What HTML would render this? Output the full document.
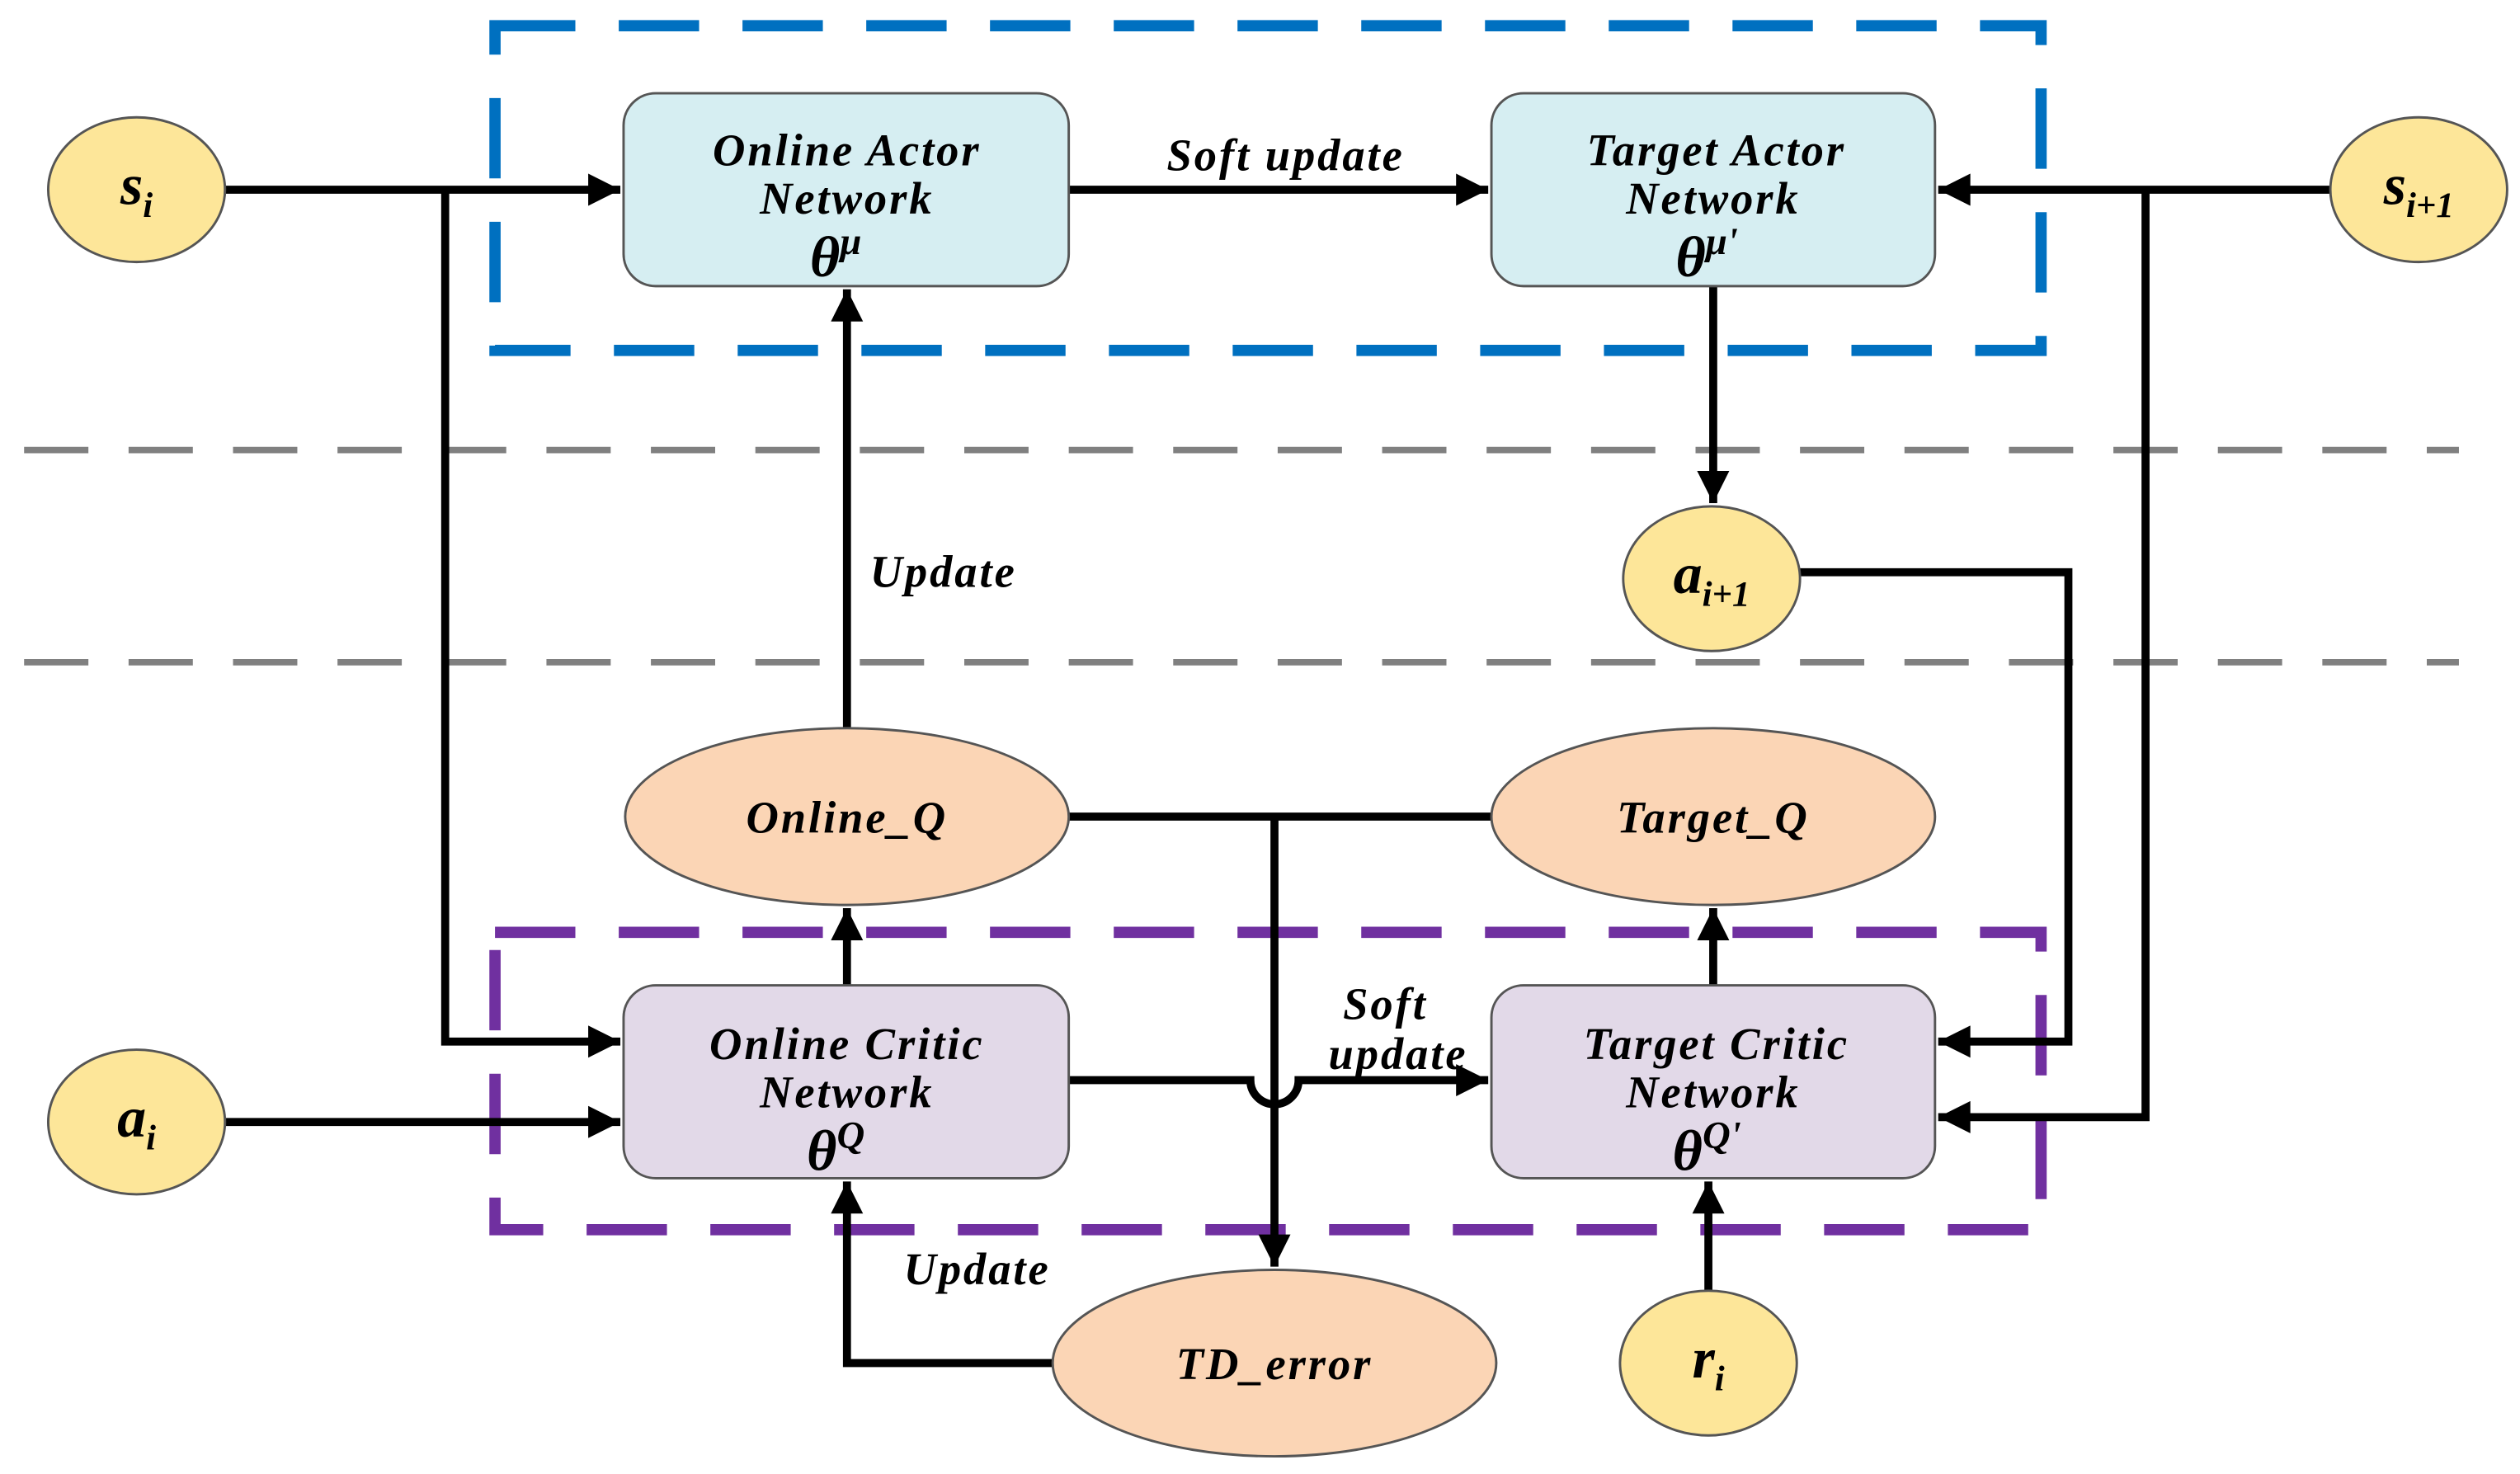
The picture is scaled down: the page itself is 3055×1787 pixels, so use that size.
<!DOCTYPE html>
<html><head><style>html,body{margin:0;padding:0;background:#fff}svg{display:block}</style></head>
<body>
<svg width="3055" height="1787" viewBox="0 0 1568 917" preserveAspectRatio="none" xmlns="http://www.w3.org/2000/svg">
<defs>
<marker id="a" viewBox="0 0 10 10" refX="10" refY="5" markerWidth="24" markerHeight="20" markerUnits="userSpaceOnUse" orient="auto"><path d="M0,0 L10,5 L0,10 z" fill="#000"/></marker>
</defs>
<g font-family="'Liberation Serif',serif" font-style="italic" font-weight="bold" text-anchor="middle">
<rect x="308" y="16" width="962" height="202" fill="none" stroke="#0070c0" stroke-width="7" stroke-dasharray="50 27"/>
<rect x="308" y="580" width="962" height="185" fill="none" stroke="#7030a0" stroke-width="7" stroke-dasharray="50 27"/>
<line x1="15" y1="280" x2="1530" y2="280" stroke="#808080" stroke-width="4" stroke-dasharray="40 25"/>
<line x1="15" y1="412" x2="1530" y2="412" stroke="#808080" stroke-width="4" stroke-dasharray="40 25"/>

<g fill="none" stroke="#000" stroke-width="5">
<path d="M140,118 H386" marker-end="url(#a)"/>
<path d="M277,118 V648 H386" marker-end="url(#a)"/>
<path d="M665,118 H926" marker-end="url(#a)"/>
<path d="M1450,118 H1206" marker-end="url(#a)"/>
<path d="M1335,118 V695 H1206" marker-end="url(#a)"/>
<path d="M1066,178 V313" marker-end="url(#a)"/>
<path d="M1120,356 H1287 V648 H1206" marker-end="url(#a)"/>
<path d="M527,453 V180" marker-end="url(#a)"/>
<path d="M527,613 V565" marker-end="url(#a)"/>
<path d="M1066,613 V565" marker-end="url(#a)"/>
<path d="M665,508 H928"/>
<path d="M793,508 V788" marker-end="url(#a)"/>
<path d="M665,672 H778 A15,15 0 0 0 808,672 H926" marker-end="url(#a)"/>
<path d="M140,698 H386" marker-end="url(#a)"/>
<path d="M655,848 H527 V735" marker-end="url(#a)"/>
<path d="M1063,803 V735" marker-end="url(#a)"/>
</g>

<g stroke="#555" stroke-width="1.5">
<rect x="388" y="58" width="277" height="120" rx="20" fill="#d6eef2"/>
<rect x="928" y="58" width="276" height="120" rx="20" fill="#d6eef2"/>
<rect x="388" y="613" width="277" height="120" rx="20" fill="#e2d9e8"/>
<rect x="928" y="613" width="276" height="120" rx="20" fill="#e2d9e8"/>
<ellipse cx="85" cy="118" rx="55" ry="45" fill="#fde699"/>
<ellipse cx="1505" cy="118" rx="55" ry="45" fill="#fde699"/>
<ellipse cx="1065" cy="360" rx="55" ry="45" fill="#fde699"/>
<ellipse cx="85" cy="698" rx="55" ry="45" fill="#fde699"/>
<ellipse cx="1063" cy="848" rx="55" ry="45" fill="#fde699"/>
<ellipse cx="527" cy="508" rx="138" ry="55" fill="#fbd5b5"/>
<ellipse cx="1066" cy="508" rx="138" ry="55" fill="#fbd5b5"/>
<ellipse cx="793" cy="848" rx="138" ry="58" fill="#fbd5b5"/>
</g>

<g font-size="28" letter-spacing="1.5">
<text x="527" y="103">Online Actor</text><text x="527" y="133">Network</text>
<text x="1068" y="103">Target  Actor</text><text x="1066" y="133">Network</text>
<text x="527" y="659">Online Critic</text><text x="527" y="689">Network</text>
<text x="1068" y="659">Target Critic</text><text x="1066" y="689">Network</text>
<text x="527" y="518">Online_Q</text>
<text x="1066" y="518">Target_Q</text>
<text x="793" y="858">TD_error</text>
<text x="800" y="106">Soft update</text>
<text x="862" y="634">Soft</text><text x="870" y="665">update</text>
<text x="587" y="365">Update</text>
<text x="608" y="799">Update</text>
</g>
<g font-size="36">
<text x="520" y="172">θ<tspan font-size="24" dy="-14">μ</tspan></text>
<text x="1062" y="172">θ<tspan font-size="24" dy="-14">μ'</tspan></text>
<text x="520" y="728">θ<tspan font-size="24" dy="-14">Q</tspan></text>
<text x="1062" y="728">θ<tspan font-size="24" dy="-14">Q'</tspan></text>
<text x="85" y="127">s<tspan font-size="22" dy="8">i</tspan></text>
<text x="1505" y="127">s<tspan font-size="22" dy="8">i+1</tspan></text>
<text x="1065" y="369">a<tspan font-size="22" dy="8">i+1</tspan></text>
<text x="85" y="707">a<tspan font-size="22" dy="8">i</tspan></text>
<text x="1063" y="857">r<tspan font-size="22" dy="8">i</tspan></text>
</g>
</g>
</svg>
</body></html>
